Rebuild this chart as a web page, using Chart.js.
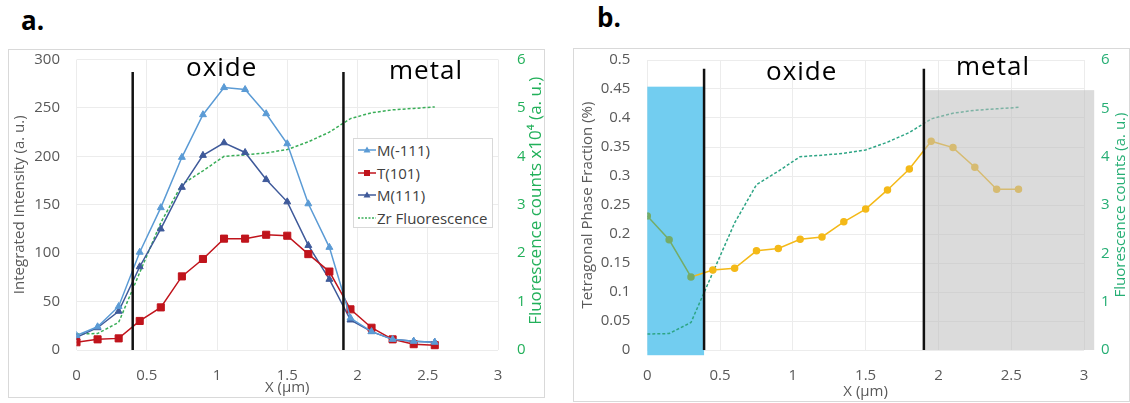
<!DOCTYPE html>
<html>
<head>
<meta charset="utf-8">
<script src="https://cdn.jsdelivr.net/npm/chart.js@4.4.1/dist/chart.umd.min.js"></script>
<style>
body { margin: 0; width: 1130px; height: 403px; background: #fff; position: relative; overflow: hidden; font-family: 'Open Sans', sans-serif; }
.panel { position: absolute; border: 1px solid #d9d9d9; box-sizing: border-box; background: #fff; }
.panel canvas { position: absolute; left: 0; top: 0; }
.lbl { position: absolute; line-height: 1; white-space: nowrap; color: #000; }
.tag { font-weight: 700; font-size: 26px; }
.zone { font-size: 26px; letter-spacing: 1px; }
.legend { position: absolute; left: 353px; top: 138px; width: 140px; height: 90px; box-sizing: border-box; border: 1px solid #d9d9d9; background: #fff; padding-top: 0; }
.legend .row { display: flex; align-items: center; height: 22.6px; font-size: 15px; color: #404040; white-space: nowrap; }
.legend svg { margin-left: 4px; margin-right: 1px; }
</style>
</head>
<body>
<div class="lbl tag" style="left:21px; top:6.5px;">a.</div>
<div class="lbl tag" style="left:597px; top:4px;">b.</div>

<div class="panel" style="left:8px; top:49px; width:537px; height:349px;">
  <canvas id="chartA" width="535" height="347"></canvas>
</div>
<div class="panel" style="left:573px; top:48px; width:557px; height:354px;">
  <canvas id="chartB" width="555" height="352"></canvas>
</div>

<div class="lbl zone" style="left:186px; top:53px;">oxide</div>
<div class="lbl zone" style="left:389px; top:56.2px;">metal</div>
<div class="lbl zone" style="left:766px; top:56.9px;">oxide</div>
<div class="lbl zone" style="left:956px; top:51.9px;">metal</div>

<div class="legend" id="legendA"></div>

<script>
// measurement positions (µm)
const xPos = [0, 0.15, 0.3, 0.45, 0.6, 0.75, 0.9, 1.05, 1.2, 1.35, 1.5, 1.65, 1.8, 1.95, 2.1, 2.25, 2.4, 2.55];

// a. integrated peak intensity (a. u.)
const mMinus111 = [15, 24, 45, 101, 147, 199, 243, 271, 269, 244, 213, 151, 106, 33, 19, 11, 9, 8];
const t101 = [8, 11, 12, 30, 44, 76, 94, 115, 115, 119, 118, 99, 81, 42, 23, 11, 6, 5];
const m111 = [13, 23, 40, 86, 125, 168, 201, 214, 204, 176, 153, 108, 73, 31, 19, 11, 9, 8];

// Zr fluorescence counts (same profile on both panels)
const zrFluor = [0.33, 0.34, 0.57, 1.6, 2.63, 3.42, 3.7, 4.0, 4.03, 4.07, 4.14, 4.3, 4.5, 4.78, 4.9, 4.96, 4.99, 5.02];

// b. tetragonal phase fraction
const tetraFrac = [0.231, 0.19, 0.126, 0.138, 0.141, 0.171, 0.175, 0.191, 0.195, 0.221, 0.243, 0.276, 0.312, 0.36, 0.349, 0.315, 0.277, 0.277];

// tick labels
const xTicks = [0, 0.5, 1, 1.5, 2, 2.5, 3];
const yTicksA = [0, 50, 100, 150, 200, 250, 300];
const yTicksB = [0, 0.05, 0.1, 0.15, 0.2, 0.25, 0.3, 0.35, 0.4, 0.45, 0.5];
const y2Ticks = [0, 1, 2, 3, 4, 5, 6];

// oxide / metal boundaries and shaded regions (axis units)
const boundaryA = [0.4, 1.9];
const boundaryB = [0.39, 1.9];
const boundaryTopA = 287;
const boundaryTopB = 0.485;
const blueX = [0, 0.39];
const blueY = [-0.009, 0.454];
const grayX = [1.9, 3.07];
const grayY = [0, 0.448];

const FONT = "'Open Sans', sans-serif";
const TICK = '#595959';
const GRID = '#ececec';
const YELLOW = '#f4b918';
const YELLOW_IN_BLUE = '#74ac68';

function setTicks(values) {
    return scale => { scale.ticks = values.map(v => ({ value: v })); };
}

function points(ys) {
    return xPos.map((x, i) => ({ x: x, y: ys[i] }));
}

function boundaryLine(x, top) {
    return {
        label: 'boundary',
        data: [{ x: x, y: 0 }, { x: x, y: top }],
        showLine: true,
        borderColor: '#111',
        borderWidth: 2.5,
        pointRadius: 0,
        order: 0
    };
}

// fixed axis size, and no extra room for edge labels
function fixVertical(width) {
    return s => { s.width = width; s.paddingTop = 0; s.paddingBottom = 0; };
}
function fixHorizontal(height) {
    return s => { s.height = height; s.paddingLeft = 0; s.paddingRight = 0; };
}

function buildScales(p) {
    return {
        x: {
            type: 'linear', min: 0, max: 3,
            afterBuildTicks: setTicks(xTicks),
            afterFit: fixHorizontal(p.xHeight),
            grid: { color: GRID, drawTicks: false },
            border: { display: false },
            ticks: { color: TICK, font: { family: FONT, size: 15 }, padding: p.xPad, autoSkip: false, maxRotation: 0, callback: v => String(v) },
            title: { display: true, text: 'X (µm)', color: TICK, font: { family: FONT, size: 15 }, padding: 0 }
        },
        y: {
            type: 'linear', min: 0, max: p.yMax,
            afterBuildTicks: setTicks(p.yTicks),
            afterFit: fixVertical(p.leftWidth),
            grid: { color: GRID, drawTicks: false },
            border: { display: false },
            ticks: { color: TICK, font: { family: FONT, size: 15 }, padding: p.yPad, autoSkip: false, callback: v => String(v) },
            title: { display: true, text: p.yTitle, color: TICK, font: { family: FONT, size: 15 }, padding: { top: p.yTitlePad, bottom: 0 } }
        },
        y2: {
            type: 'linear', position: 'right', min: 0, max: 6,
            afterBuildTicks: setTicks(y2Ticks),
            afterFit: fixVertical(p.rightWidth),
            grid: { display: false, drawTicks: false },
            border: { display: false },
            ticks: { color: p.green, font: { family: FONT, size: 15 }, padding: p.y2Pad, autoSkip: false, callback: v => String(v) }
        }
    };
}

// right axis title reads bottom-to-top, so it is drawn here
const rightTitle = {
    id: 'rightTitle',
    afterDraw(chart, args, o) {
        const ctx = chart.ctx;
        const area = chart.chartArea;
        ctx.save();
        ctx.translate(chart.width - o.offset, (area.top + area.bottom) / 2 + o.dy);
        ctx.rotate(-Math.PI / 2);
        ctx.font = o.size + 'px ' + FONT;
        ctx.fillStyle = o.color;
        ctx.textAlign = 'center';
        ctx.textBaseline = 'middle';
        ctx.fillText(o.text, 0, 0);
        ctx.restore();
    }
};

// shaded oxide layer (under lines) and metal (over lines)
const regions = {
    id: 'regions',
    beforeDatasetsDraw(chart) {
        const xs = chart.scales.x, ys = chart.scales.y, ctx = chart.ctx;
        const x0 = xs.getPixelForValue(blueX[0]), x1 = xs.getPixelForValue(blueX[1]);
        const y0 = ys.getPixelForValue(blueY[1]), y1 = ys.getPixelForValue(blueY[0]);
        ctx.save();
        ctx.fillStyle = '#72cdf0';
        ctx.fillRect(x0, y0, x1 - x0, y1 - y0);
        ctx.restore();
    },
    afterDatasetDraw(chart, args) {
        if (chart.data.datasets[args.index].label !== 'Tetragonal') return;
        const xs = chart.scales.x, ys = chart.scales.y, ctx = chart.ctx;
        const x0 = xs.getPixelForValue(grayX[0]), x1 = xs.getPixelForValue(grayX[1]);
        const y0 = ys.getPixelForValue(grayY[1]), y1 = ys.getPixelForValue(grayY[0]);
        ctx.save();
        ctx.fillStyle = 'rgba(190,190,190,0.55)';
        ctx.fillRect(x0, y0, x1 - x0, y1 - y0);
        ctx.restore();
    }
};

// panel a series
const seriesA = [
    { label: 'M(-111)', values: mMinus111, color: '#5b9bd5', point: 'triangle', r: 4 },
    { label: 'T(101)', values: t101, color: '#c0141c', point: 'rect', r: 5 },
    { label: 'M(111)', values: m111, color: '#3f5a9a', point: 'triangle', r: 4 }
];
const zrA = { label: 'Zr Fluorescence', color: '#3aae58', dash: true };

function createChartA() {
    const datasets = boundaryA.map(x => boundaryLine(x, boundaryTopA));
    seriesA.forEach((s, i) => {
        datasets.push({
            label: s.label,
            data: points(s.values),
            showLine: true,
            borderColor: s.color,
            backgroundColor: s.color,
            borderWidth: 1.5,
            pointStyle: s.point,
            pointRadius: s.r,
            pointBackgroundColor: s.color,
            pointBorderColor: s.color,
            pointBorderWidth: 1,
            yAxisID: 'y',
            order: i + 1
        });
    });
    datasets.push({
        label: zrA.label,
        data: points(zrFluor),
        showLine: true,
        borderColor: zrA.color,
        borderWidth: 1.5,
        borderDash: [3, 2],
        pointRadius: 0,
        yAxisID: 'y2',
        order: 4
    });

    new Chart(document.getElementById('chartA'), {
        type: 'scatter',
        data: { datasets: datasets },
        options: {
            responsive: false,
            animation: false,
            layout: { padding: { top: 9.5, left: 0, right: 0, bottom: 0 } },
            scales: buildScales({
                xHeight: 47, xPad: 17,
                yMax: 300, yTicks: yTicksA, leftWidth: 67.5, yPad: 16.5,
                yTitle: 'Integrated Intensity (a. u.)', yTitlePad: 2,
                rightWidth: 46, y2Pad: 19, green: '#22b05a'
            }),
            plugins: {
                legend: { display: false },
                tooltip: { enabled: false },
                rightTitle: { text: 'Fluorescence counts x10⁴ (a. u.)', color: '#22b05a', offset: 7.5, dy: -4, size: 17 }
            }
        },
        plugins: [rightTitle]
    });

    // legend box
    const legend = document.getElementById('legendA');
    seriesA.concat([zrA]).forEach(s => {
        let marker = '';
        if (s.point === 'triangle') marker = `<polygon points="9,1.5 12.5,7.5 5.5,7.5" fill="${s.color}"/>`;
        if (s.point === 'rect') marker = `<rect x="6" y="2" width="6" height="6" fill="${s.color}"/>`;
        const dash = s.dash ? ' stroke-dasharray="2,1.5"' : '';
        const row = document.createElement('div');
        row.className = 'row';
        row.innerHTML = `<svg width="18" height="10"><line x1="0" y1="5" x2="18" y2="5" stroke="${s.color}" stroke-width="1.5"${dash}/>${marker}</svg><span>${s.label}</span>`;
        legend.appendChild(row);
    });
}

function createChartB() {
    const datasets = boundaryB.map(x => boundaryLine(x, boundaryTopB));
    datasets.push({
        label: 'Tetragonal',
        data: points(tetraFrac),
        showLine: true,
        borderColor: YELLOW,
        borderWidth: 1.5,
        segment: { borderColor: ctx => ctx.p1.parsed.x <= blueX[1] ? YELLOW_IN_BLUE : YELLOW },
        pointStyle: 'circle',
        pointRadius: 3,
        pointBackgroundColor: ctx => xPos[ctx.dataIndex] < blueX[1] ? YELLOW_IN_BLUE : YELLOW,
        pointBorderColor: ctx => xPos[ctx.dataIndex] < blueX[1] ? YELLOW_IN_BLUE : YELLOW,
        yAxisID: 'y',
        order: 1
    });
    datasets.push({
        label: 'Zr Fluorescence',
        data: points(zrFluor),
        showLine: true,
        borderColor: '#2ea585',
        borderWidth: 1.5,
        borderDash: [3, 2],
        pointRadius: 0,
        yAxisID: 'y2',
        order: 2
    });

    new Chart(document.getElementById('chartB'), {
        type: 'scatter',
        data: { datasets: datasets },
        options: {
            responsive: false,
            animation: false,
            layout: { padding: { top: 11, left: 0, right: 0, bottom: 0 } },
            scales: buildScales({
                xHeight: 51, xPad: 17,
                yMax: 0.5, yTicks: yTicksB, leftWidth: 73.3, yPad: 17,
                yTitle: 'Tetragonal Phase Fraction (%)', yTitlePad: 5,
                rightWidth: 45, y2Pad: 17, green: '#25ae74'
            }),
            plugins: {
                legend: { display: false },
                tooltip: { enabled: false },
                rightTitle: { text: 'Fluorescence counts (a. u.)', color: '#25ae74', offset: 8, dy: 0, size: 15 }
            }
        },
        plugins: [regions, rightTitle]
    });
}

document.addEventListener('DOMContentLoaded', () => {
    createChartA();
    createChartB();
});
</script>
</body>
</html>
